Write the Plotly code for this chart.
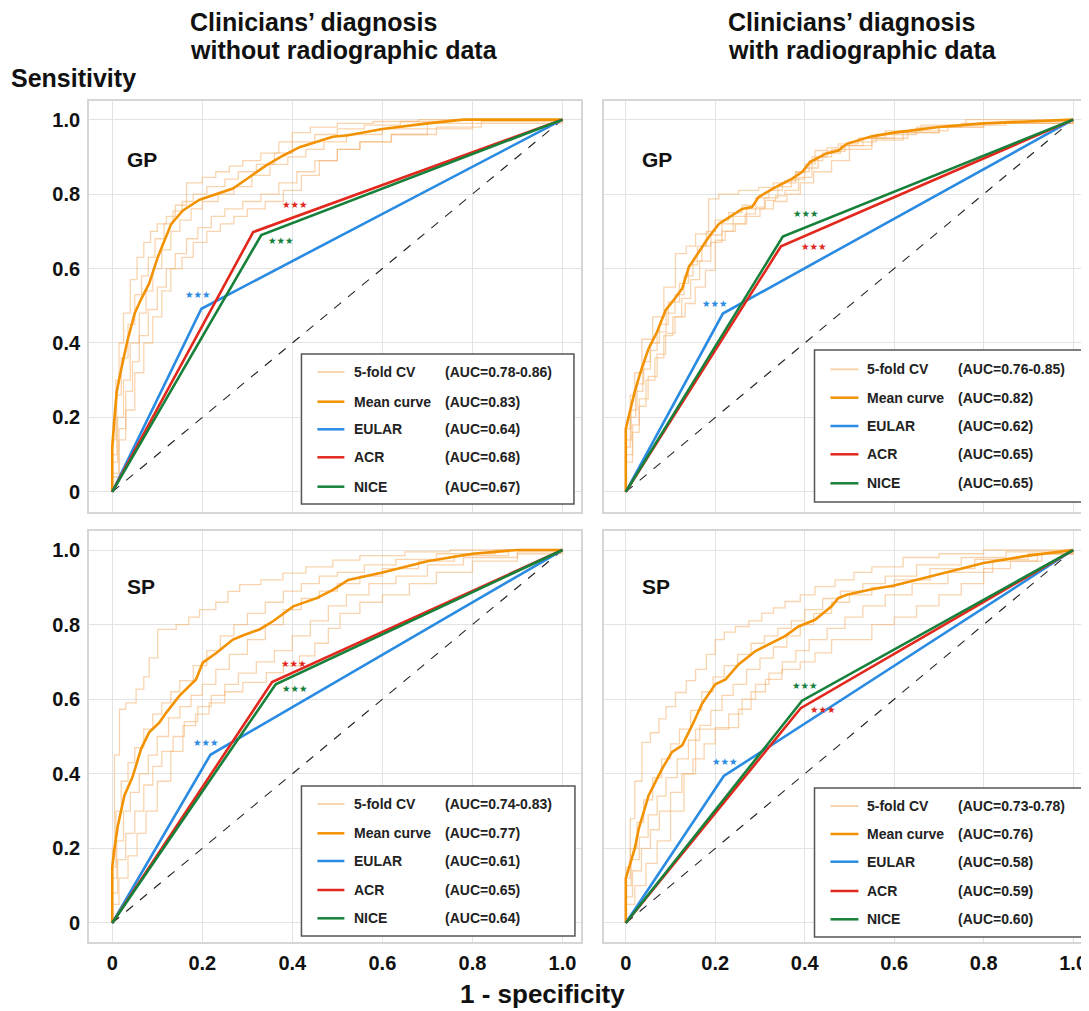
import plotly.graph_objects as go

W, H = 1089, 1011
OFF = 8                      # the page body adds an 8 px margin around the figure
FW, FH = W - OFF, H - OFF    # figure size that fills the rest of the window

# ------------------------------------------------------------------ data
PANEL_LABELS = ["GP", "GP", "SP", "SP"]
COLUMN_TITLES = [["Clinicians’ diagnosis", "without radiographic data"],
                 ["Clinicians’ diagnosis", "with radiographic data"]]
Y_TITLE = "Sensitivity"
X_TITLE = "1 - specificity"
TICK_VALS = [0, 0.2, 0.4, 0.6, 0.8, 1.0]
TICK_TEXT = ["0", "0.2", "0.4", "0.6", "0.8", "1.0"]
LEGEND_NAMES = ["5-fold CV", "Mean curve", "EULAR", "ACR", "NICE"]
METHODS = ["EULAR", "ACR", "NICE"]
DIAG = [0, 1]

# --- top-left: GP, without radiographic data
TL_MEAN_X = [0, 0, 0.005, 0.01, 0.02, 0.034, 0.05, 0.065, 0.082, 0.101, 0.131, 0.157, 0.194, 0.231,
             0.268, 0.305, 0.342, 0.379, 0.416, 0.453, 0.49, 0.524, 0.6, 0.7, 0.78, 1]
TL_MEAN_Y = [0, 0.12, 0.2, 0.27, 0.33, 0.408, 0.48, 0.52, 0.56, 0.63, 0.72, 0.756, 0.785, 0.80,
             0.815, 0.846, 0.877, 0.903, 0.926, 0.94, 0.954, 0.958, 0.975, 0.99, 1.0, 1.0]
TL_FOLDS_X = [
    [0, 0, 0.008, 0.015, 0.025, 0.04, 0.055, 0.07, 0.085, 0.1, 0.12, 0.14, 0.165, 0.2, 0.23, 0.26, 0.29, 0.33, 0.37, 0.4, 0.44, 0.5, 0.58, 0.68, 1],
    [0, 0, 0.01, 0.02, 0.035, 0.05, 0.065, 0.08, 0.095, 0.115, 0.135, 0.155, 0.18, 0.21, 0.25, 0.28, 0.32, 0.36, 0.4, 0.45, 0.5, 0.56, 0.64, 0.75, 1],
    [0, 0, 0.012, 0.025, 0.04, 0.06, 0.075, 0.09, 0.11, 0.13, 0.15, 0.175, 0.2, 0.235, 0.27, 0.31, 0.35, 0.39, 0.43, 0.47, 0.52, 0.6, 0.7, 0.8, 1],
    [0, 0, 0.015, 0.03, 0.045, 0.06, 0.08, 0.1, 0.12, 0.14, 0.165, 0.19, 0.22, 0.25, 0.29, 0.33, 0.37, 0.41, 0.45, 0.5, 0.55, 0.62, 0.72, 0.82, 1],
    [0, 0, 0.015, 0.03, 0.05, 0.07, 0.09, 0.11, 0.13, 0.155, 0.18, 0.21, 0.24, 0.27, 0.3, 0.34, 0.38, 0.42, 0.46, 0.5, 0.55, 0.62, 0.7, 0.8, 1],
]
TL_FOLDS_Y = [
    [0, 0.14, 0.3, 0.4, 0.48, 0.57, 0.63, 0.67, 0.7, 0.72, 0.74, 0.77, 0.83, 0.845, 0.86, 0.875, 0.89, 0.91, 0.94, 0.965, 0.98, 0.99, 0.995, 1, 1],
    [0, 0.1, 0.26, 0.36, 0.45, 0.53, 0.58, 0.63, 0.68, 0.72, 0.755, 0.78, 0.8, 0.82, 0.84, 0.86, 0.88, 0.91, 0.94, 0.96, 0.975, 0.985, 0.995, 1, 1],
    [0, 0.08, 0.2, 0.3, 0.4, 0.48, 0.54, 0.6, 0.65, 0.7, 0.73, 0.76, 0.78, 0.8, 0.82, 0.85, 0.88, 0.9, 0.92, 0.94, 0.96, 0.975, 0.99, 1, 1],
    [0, 0.05, 0.17, 0.27, 0.35, 0.42, 0.49, 0.55, 0.6, 0.64, 0.68, 0.71, 0.74, 0.76, 0.78, 0.8, 0.83, 0.86, 0.89, 0.92, 0.94, 0.96, 0.98, 0.995, 1],
    [0, 0.04, 0.14, 0.22, 0.32, 0.4, 0.47, 0.54, 0.6, 0.63, 0.67, 0.7, 0.72, 0.74, 0.76, 0.78, 0.81, 0.85, 0.89, 0.92, 0.94, 0.96, 0.975, 0.99, 1],
]
TL_OP_X = [0.198, 0.313, 0.331]      # EULAR, ACR, NICE operating points
TL_OP_Y = [0.492, 0.698, 0.690]
TL_STAR_X = [0.19, 0.405, 0.375]
TL_STAR_Y = [0.53, 0.772, 0.676]
TL_AUC = ["(AUC=0.78-0.86)", "(AUC=0.83)", "(AUC=0.64)", "(AUC=0.68)", "(AUC=0.67)"]

# --- top-right: GP, with radiographic data
TR_MEAN_X = [0, 0, 0.01, 0.02, 0.035, 0.051, 0.07, 0.089, 0.11, 0.126, 0.141, 0.163, 0.185, 0.208, 0.237,
             0.26, 0.282, 0.297, 0.334, 0.371, 0.394, 0.412, 0.446, 0.475, 0.494, 0.55, 0.6, 0.7, 0.8, 0.9, 1]
TR_MEAN_Y = [0, 0.17, 0.22, 0.27, 0.33, 0.385, 0.43, 0.488, 0.52, 0.546, 0.604, 0.644, 0.684, 0.72, 0.743,
             0.76, 0.765, 0.792, 0.818, 0.841, 0.859, 0.886, 0.908, 0.917, 0.935, 0.955, 0.965, 0.98, 0.99, 0.995, 1]
TR_FOLDS_X = [
    [0, 0, 0.01, 0.02, 0.036, 0.06, 0.085, 0.111, 0.135, 0.156, 0.185, 0.208, 0.252, 0.297, 0.33, 0.356, 0.38, 0.401, 0.423, 0.45, 0.475, 0.52, 0.58, 0.66, 0.76, 1],
    [0, 0, 0.012, 0.025, 0.04, 0.055, 0.075, 0.095, 0.12, 0.14, 0.16, 0.18, 0.2, 0.23, 0.26, 0.29, 0.32, 0.35, 0.38, 0.41, 0.44, 0.48, 0.53, 0.6, 0.7, 0.8, 1],
    [0, 0, 0.01, 0.022, 0.038, 0.055, 0.07, 0.09, 0.11, 0.13, 0.15, 0.17, 0.19, 0.215, 0.24, 0.27, 0.31, 0.34, 0.37, 0.4, 0.43, 0.46, 0.5, 0.56, 0.65, 0.75, 1],
    [0, 0, 0.015, 0.03, 0.05, 0.07, 0.089, 0.11, 0.133, 0.155, 0.178, 0.2, 0.222, 0.245, 0.267, 0.29, 0.312, 0.335, 0.356, 0.386, 0.416, 0.45, 0.49, 0.55, 0.63, 0.72, 0.85, 1],
    [0, 0, 0.015, 0.03, 0.045, 0.065, 0.085, 0.105, 0.125, 0.145, 0.165, 0.19, 0.215, 0.24, 0.27, 0.3, 0.33, 0.36, 0.39, 0.42, 0.46, 0.5, 0.55, 0.62, 0.7, 0.8, 1],
]
TR_FOLDS_Y = [
    [0, 0.17, 0.26, 0.32, 0.41, 0.47, 0.55, 0.64, 0.66, 0.693, 0.787, 0.8, 0.81, 0.818, 0.83, 0.836, 0.86, 0.881, 0.917, 0.925, 0.935, 0.95, 0.97, 0.985, 1, 1],
    [0, 0.14, 0.22, 0.29, 0.35, 0.4, 0.45, 0.51, 0.56, 0.61, 0.66, 0.7, 0.73, 0.75, 0.77, 0.79, 0.81, 0.83, 0.86, 0.89, 0.91, 0.93, 0.95, 0.965, 0.98, 0.99, 1],
    [0, 0.12, 0.2, 0.27, 0.33, 0.38, 0.43, 0.48, 0.53, 0.58, 0.62, 0.66, 0.69, 0.72, 0.74, 0.76, 0.79, 0.82, 0.84, 0.87, 0.9, 0.92, 0.94, 0.96, 0.98, 0.99, 1],
    [0, 0.1, 0.18, 0.25, 0.31, 0.37, 0.426, 0.47, 0.506, 0.55, 0.595, 0.676, 0.7, 0.72, 0.747, 0.765, 0.783, 0.795, 0.81, 0.845, 0.9, 0.915, 0.93, 0.95, 0.97, 0.985, 0.995, 1],
    [0, 0.08, 0.16, 0.23, 0.3, 0.36, 0.42, 0.47, 0.52, 0.57, 0.62, 0.67, 0.7, 0.72, 0.74, 0.76, 0.78, 0.8, 0.83, 0.86, 0.89, 0.92, 0.945, 0.965, 0.98, 0.99, 1],
]
TR_OP_X = [0.217, 0.347, 0.351]
TR_OP_Y = [0.479, 0.660, 0.686]
TR_STAR_X = [0.199, 0.42, 0.402]
TR_STAR_Y = [0.507, 0.66, 0.749]
TR_AUC = ["(AUC=0.76-0.85)", "(AUC=0.82)", "(AUC=0.62)", "(AUC=0.65)", "(AUC=0.65)"]

# --- bottom-left: SP, without radiographic data
BL_MEAN_X = [0, 0, 0.005, 0.012, 0.027, 0.045, 0.064, 0.082, 0.105, 0.12, 0.149, 0.186, 0.201, 0.231, 0.268,
             0.29, 0.327, 0.357, 0.402, 0.454, 0.49, 0.524, 0.6, 0.7, 0.8, 0.9, 1]
BL_MEAN_Y = [0, 0.15, 0.2, 0.258, 0.342, 0.391, 0.467, 0.511, 0.538, 0.564, 0.609, 0.653, 0.698, 0.724, 0.76,
             0.771, 0.787, 0.809, 0.849, 0.871, 0.893, 0.92, 0.94, 0.97, 0.99, 1, 1]
BL_FOLDS_X = [
    [0, 0, 0.005, 0.016, 0.03, 0.053, 0.07, 0.082, 0.101, 0.142, 0.17, 0.194, 0.23, 0.257, 0.283, 0.33, 0.379, 0.43, 0.49, 0.55, 0.65, 0.75, 1],
    [0, 0, 0.008, 0.02, 0.035, 0.05, 0.07, 0.09, 0.11, 0.13, 0.15, 0.18, 0.21, 0.24, 0.27, 0.3, 0.34, 0.38, 0.42, 0.46, 0.5, 0.56, 0.63, 0.72, 0.85, 1],
    [0, 0, 0.01, 0.025, 0.04, 0.06, 0.08, 0.1, 0.125, 0.15, 0.175, 0.2, 0.23, 0.26, 0.3, 0.34, 0.38, 0.42, 0.46, 0.5, 0.55, 0.6, 0.68, 0.76, 0.88, 1],
    [0, 0, 0.012, 0.03, 0.05, 0.07, 0.09, 0.11, 0.135, 0.16, 0.19, 0.22, 0.25, 0.28, 0.32, 0.36, 0.4, 0.44, 0.48, 0.52, 0.57, 0.63, 0.7, 0.78, 0.9, 1],
    [0, 0, 0.015, 0.035, 0.055, 0.075, 0.1, 0.13, 0.157, 0.185, 0.215, 0.25, 0.29, 0.342, 0.38, 0.416, 0.45, 0.48, 0.506, 0.55, 0.6, 0.66, 0.72, 0.8, 0.9, 1],
]
BL_FOLDS_Y = [
    [0, 0.2, 0.45, 0.573, 0.59, 0.627, 0.66, 0.711, 0.787, 0.8, 0.82, 0.84, 0.86, 0.889, 0.907, 0.92, 0.938, 0.955, 0.973, 0.985, 0.995, 1, 1],
    [0, 0.15, 0.3, 0.38, 0.43, 0.47, 0.52, 0.56, 0.59, 0.62, 0.65, 0.69, 0.73, 0.77, 0.8, 0.83, 0.86, 0.89, 0.91, 0.93, 0.94, 0.96, 0.975, 0.99, 1, 1],
    [0, 0.12, 0.22, 0.3, 0.35, 0.4, 0.45, 0.5, 0.55, 0.58, 0.61, 0.64, 0.68, 0.72, 0.76, 0.8, 0.84, 0.87, 0.89, 0.91, 0.93, 0.95, 0.97, 0.985, 1, 1],
    [0, 0.08, 0.17, 0.24, 0.3, 0.37, 0.42, 0.46, 0.5, 0.54, 0.58, 0.61, 0.64, 0.67, 0.7, 0.73, 0.77, 0.81, 0.85, 0.88, 0.91, 0.93, 0.96, 0.98, 0.995, 1],
    [0, 0.05, 0.12, 0.18, 0.24, 0.3, 0.38, 0.46, 0.529, 0.56, 0.59, 0.62, 0.645, 0.671, 0.69, 0.716, 0.75, 0.79, 0.83, 0.86, 0.88, 0.91, 0.94, 0.97, 0.99, 1],
]
BL_OP_X = [0.218, 0.355, 0.363]
BL_OP_Y = [0.451, 0.646, 0.640]
BL_STAR_X = [0.208, 0.404, 0.405]
BL_STAR_Y = [0.485, 0.696, 0.628]
BL_AUC = ["(AUC=0.74-0.83)", "(AUC=0.77)", "(AUC=0.61)", "(AUC=0.65)", "(AUC=0.64)"]

# --- bottom-right: SP, with radiographic data
BR_MEAN_X = [0, 0, 0.01, 0.02, 0.029, 0.051, 0.081, 0.103, 0.126, 0.148, 0.17, 0.2, 0.223, 0.252, 0.29,
             0.327, 0.356, 0.386, 0.423, 0.46, 0.475, 0.494, 0.55, 0.6, 0.7, 0.8, 0.9, 1]
BR_MEAN_Y = [0, 0.12, 0.16, 0.2, 0.253, 0.342, 0.413, 0.458, 0.476, 0.529, 0.587, 0.64, 0.653, 0.693, 0.729,
             0.751, 0.769, 0.795, 0.813, 0.849, 0.871, 0.88, 0.895, 0.905, 0.935, 0.965, 0.985, 1]
BR_FOLDS_X = [
    [0, 0, 0.01, 0.02, 0.036, 0.055, 0.074, 0.09, 0.111, 0.135, 0.156, 0.18, 0.2, 0.22, 0.245, 0.275, 0.304, 0.33, 0.356, 0.39, 0.423, 0.468, 0.51, 0.55, 0.62, 0.7, 0.8, 1],
    [0, 0, 0.01, 0.025, 0.04, 0.06, 0.08, 0.1, 0.12, 0.145, 0.17, 0.195, 0.22, 0.25, 0.28, 0.31, 0.34, 0.37, 0.4, 0.44, 0.48, 0.53, 0.58, 0.65, 0.75, 0.85, 1],
    [0, 0, 0.012, 0.03, 0.05, 0.07, 0.09, 0.115, 0.14, 0.165, 0.19, 0.215, 0.24, 0.27, 0.3, 0.33, 0.36, 0.39, 0.42, 0.46, 0.5, 0.55, 0.6, 0.68, 0.78, 0.9, 1],
    [0, 0, 0.015, 0.035, 0.055, 0.075, 0.1, 0.125, 0.15, 0.175, 0.2, 0.23, 0.26, 0.29, 0.32, 0.35, 0.38, 0.41, 0.45, 0.49, 0.53, 0.58, 0.64, 0.72, 0.82, 0.92, 1],
    [0, 0, 0.02, 0.045, 0.07, 0.1, 0.13, 0.156, 0.2, 0.252, 0.28, 0.312, 0.349, 0.39, 0.423, 0.46, 0.5, 0.55, 0.6, 0.65, 0.7, 0.75, 0.8, 0.86, 0.93, 1],
]
BR_FOLDS_Y = [
    [0, 0.15, 0.28, 0.38, 0.484, 0.51, 0.547, 0.58, 0.618, 0.65, 0.68, 0.72, 0.76, 0.78, 0.795, 0.81, 0.831, 0.845, 0.862, 0.88, 0.902, 0.92, 0.94, 0.955, 0.98, 0.99, 1, 1],
    [0, 0.12, 0.2, 0.27, 0.33, 0.39, 0.44, 0.48, 0.52, 0.57, 0.62, 0.66, 0.69, 0.72, 0.75, 0.77, 0.79, 0.81, 0.84, 0.87, 0.89, 0.91, 0.93, 0.96, 0.98, 0.995, 1],
    [0, 0.1, 0.17, 0.23, 0.29, 0.34, 0.39, 0.44, 0.49, 0.53, 0.57, 0.61, 0.64, 0.68, 0.71, 0.74, 0.77, 0.8, 0.83, 0.86, 0.88, 0.9, 0.92, 0.95, 0.975, 0.99, 1],
    [0, 0.07, 0.14, 0.2, 0.25, 0.3, 0.35, 0.4, 0.44, 0.48, 0.52, 0.56, 0.6, 0.64, 0.67, 0.7, 0.73, 0.76, 0.79, 0.82, 0.85, 0.88, 0.91, 0.94, 0.97, 0.99, 1],
    [0, 0.05, 0.1, 0.16, 0.22, 0.3, 0.4, 0.52, 0.524, 0.573, 0.62, 0.653, 0.68, 0.7, 0.724, 0.76, 0.76, 0.8, 0.82, 0.85, 0.88, 0.91, 0.95, 0.97, 0.99, 1],
]
BR_OP_X = [0.219, 0.391, 0.394]
BR_OP_Y = [0.394, 0.576, 0.596]
BR_STAR_X = [0.221, 0.44, 0.401]
BR_STAR_Y = [0.434, 0.573, 0.636]
BR_AUC = ["(AUC=0.73-0.78)", "(AUC=0.76)", "(AUC=0.58)", "(AUC=0.59)", "(AUC=0.60)"]

# ------------------------------------------------------------------ style
FOLD_COLOR = "rgba(244,178,110,0.55)"
MEAN_COLOR = "#f39200"
METHOD_COLORS = {"EULAR": "#2a8be3", "ACR": "#e2281d", "NICE": "#17803a"}
LEGEND_COLORS = [FOLD_COLOR, MEAN_COLOR, METHOD_COLORS["EULAR"], METHOD_COLORS["ACR"], METHOD_COLORS["NICE"]]
FONT = "Liberation Sans, Arial, sans-serif"
TXT = "#111111"


def px_x(p):
    return (p - OFF) / FW


def px_y(p):
    return 1 - (p - OFF) / FH


panels = [
    dict(mx=TL_MEAN_X, my=TL_MEAN_Y, fx=TL_FOLDS_X, fy=TL_FOLDS_Y, ox=TL_OP_X, oy=TL_OP_Y,
         sx=TL_STAR_X, sy=TL_STAR_Y, auc=TL_AUC, lab=PANEL_LABELS[0],
         dom_x=(89, 582), dom_y=(101, 512), rx=[-0.052, 1.041], ry=[-0.054, 1.05],
         lbox=(302, 575, 354, 504), rows=[372, 401.7, 429.3, 457.3, 486.7], lline=(318, 345), ltxt=353, lauc=444,
         glab=(125, 159)),
    dict(mx=TR_MEAN_X, my=TR_MEAN_Y, fx=TR_FOLDS_X, fy=TR_FOLDS_Y, ox=TR_OP_X, oy=TR_OP_Y,
         sx=TR_STAR_X, sy=TR_STAR_Y, auc=TR_AUC, lab=PANEL_LABELS[1],
         dom_x=(605, 1089), dom_y=(101, 512), rx=[-0.049, 1.031], ry=[-0.054, 1.05],
         lbox=(816, 1085, 350, 502), rows=[369.3, 397.7, 426, 454.3, 483.3], lline=(832, 860), ltxt=867, lauc=958,
         glab=(641, 159)),
    dict(mx=BL_MEAN_X, my=BL_MEAN_Y, fx=BL_FOLDS_X, fy=BL_FOLDS_Y, ox=BL_OP_X, oy=BL_OP_Y,
         sx=BL_STAR_X, sy=BL_STAR_Y, auc=BL_AUC, lab=PANEL_LABELS[2],
         dom_x=(89, 582), dom_y=(531, 942), rx=[-0.052, 1.041], ry=[-0.051, 1.051],
         lbox=(302, 576, 786, 936), rows=[804, 833.3, 861, 890, 918.3], lline=(318, 345), ltxt=353, lauc=444,
         glab=(125, 586)),
    dict(mx=BR_MEAN_X, my=BR_MEAN_Y, fx=BR_FOLDS_X, fy=BR_FOLDS_Y, ox=BR_OP_X, oy=BR_OP_Y,
         sx=BR_STAR_X, sy=BR_STAR_Y, auc=BR_AUC, lab=PANEL_LABELS[3],
         dom_x=(605, 1089), dom_y=(531, 942), rx=[-0.049, 1.031], ry=[-0.051, 1.051],
         lbox=(816, 1087, 788, 937), rows=[806, 834, 861.7, 891, 919.3], lline=(832, 860), ltxt=867, lauc=958,
         glab=(641, 586)),
]

fig = go.Figure()
shapes = []
annotations = []
layout_axes = {}

for i, p in enumerate(panels):
    k = "" if i == 0 else str(i + 1)
    xa, ya = "x" + k, "y" + k
    fig.add_trace(go.Scatter(x=DIAG, y=DIAG, mode="lines", xaxis=xa, yaxis=ya, showlegend=False,
                             line=dict(color="#222222", width=1.1, dash="dash"), hoverinfo="skip"))
    for fx, fy in zip(p["fx"], p["fy"]):
        fig.add_trace(go.Scatter(x=fx, y=fy, mode="lines", xaxis=xa, yaxis=ya, showlegend=False,
                                 line=dict(color=FOLD_COLOR, width=1.3, shape="hv")))
    fig.add_trace(go.Scatter(x=p["mx"], y=p["my"], mode="lines", xaxis=xa, yaxis=ya, showlegend=False,
                             line=dict(color=MEAN_COLOR, width=2.6)))
    for j, m in enumerate(METHODS):
        fig.add_trace(go.Scatter(x=[0, p["ox"][j], 1], y=[0, p["oy"][j], 1], mode="lines",
                                 xaxis=xa, yaxis=ya, showlegend=False,
                                 line=dict(color=METHOD_COLORS[m], width=2.6)))
        annotations.append(dict(x=p["sx"][j], y=p["sy"][j], xref=xa, yref=ya, text="★★★",
                                showarrow=False, font=dict(family="DejaVu Sans", size=9.5,
                                                           color=METHOD_COLORS[m])))
    annotations.append(dict(x=px_x(p["glab"][0]), y=px_y(p["glab"][1]), xref="paper", yref="paper",
                            text=p["lab"], showarrow=False, xanchor="left", yanchor="middle",
                            font=dict(family=FONT, size=21, color=TXT, weight="bold")))
    bx0, bx1, by0, by1 = p["lbox"]
    shapes.append(dict(type="rect", xref="paper", yref="paper", x0=px_x(bx0), x1=px_x(bx1),
                       y0=px_y(by1), y1=px_y(by0), fillcolor="white",
                       line=dict(color="#555555", width=1.5), layer="above"))
    for r, yy in enumerate(p["rows"]):
        shapes.append(dict(type="line", xref="paper", yref="paper", x0=px_x(p["lline"][0]),
                           x1=px_x(p["lline"][1]), y0=px_y(yy), y1=px_y(yy),
                           line=dict(color=LEGEND_COLORS[r], width=2.5 if r else 2), layer="above"))
        annotations.append(dict(x=px_x(p["ltxt"]), y=px_y(yy), xref="paper", yref="paper",
                                text=LEGEND_NAMES[r], showarrow=False, xanchor="left", yanchor="middle",
                                font=dict(family=FONT, size=14, color="#222222", weight="bold")))
        annotations.append(dict(x=px_x(p["lauc"]), y=px_y(yy), xref="paper", yref="paper",
                                text=p["auc"][r], showarrow=False, xanchor="left", yanchor="middle",
                                font=dict(family=FONT, size=14, color="#222222", weight="bold")))

    show_x = i >= 2
    show_y = i % 2 == 0
    axis_common = dict(showgrid=True, gridcolor="#e3e3e3", gridwidth=1, zeroline=False,
                       showline=True, mirror=True, linecolor="#d6d6d6", linewidth=1.5,
                       ticks="", tickvals=TICK_VALS, ticktext=TICK_TEXT,
                       tickfont=dict(family=FONT, size=20, color=TXT, weight="bold"))
    layout_axes["xaxis" + k] = dict(axis_common, domain=[px_x(p["dom_x"][0]), min(1.0, px_x(p["dom_x"][1]))],
                                    range=p["rx"], anchor=ya, showticklabels=show_x,
                                    ticklabelstandoff=2)
    layout_axes["yaxis" + k] = dict(axis_common, domain=[px_y(p["dom_y"][1]), px_y(p["dom_y"][0])],
                                    range=p["ry"], anchor=xa, showticklabels=show_y,
                                    ticklabelstandoff=3)

# column titles (two lines each)
for lines, xpx in zip(COLUMN_TITLES, [188, 727]):
    for line, ypx in zip(lines, [22, 50]):
        annotations.append(dict(x=px_x(xpx), y=px_y(ypx), xref="paper", yref="paper", text=line,
                                showarrow=False, xanchor="left", yanchor="middle",
                                font=dict(family=FONT, size=25, color=TXT, weight="bold")))
annotations.append(dict(x=px_x(9), y=px_y(78), xref="paper", yref="paper", text=Y_TITLE,
                        showarrow=False, xanchor="left", yanchor="middle",
                        font=dict(family=FONT, size=25, color=TXT, weight="bold")))
annotations.append(dict(x=px_x(543), y=px_y(994), xref="paper", yref="paper", text=X_TITLE,
                        showarrow=False, xanchor="center", yanchor="middle",
                        font=dict(family=FONT, size=26, color=TXT, weight="bold")))

fig.update_layout(width=FW, height=FH, margin=dict(l=0, r=0, t=0, b=0),
                  paper_bgcolor="white", plot_bgcolor="white", showlegend=False,
                  shapes=shapes, annotations=annotations, **layout_axes)

fig.write_html("out.html")
